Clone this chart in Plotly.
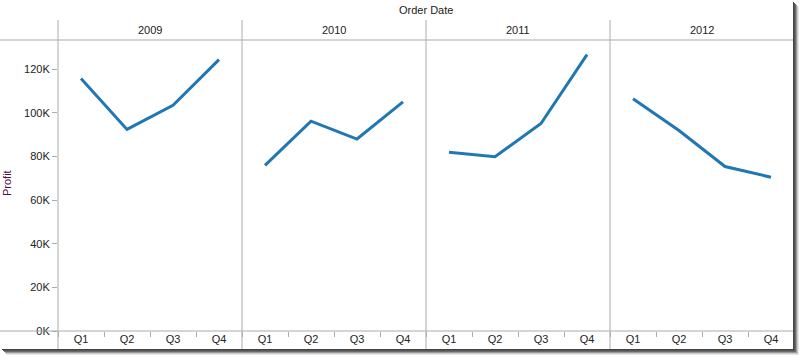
import plotly.graph_objects as go

W, H = 799, 355

years = ["2009", "2010", "2011", "2012"]
quarters = ["Q1", "Q2", "Q3", "Q4"]
profit_2009 = [115800, 92400, 103500, 124400]
profit_2010 = [75900, 96200, 88000, 105000]
profit_2011 = [81900, 79900, 95100, 126700]
profit_2012 = [106500, 91900, 75400, 70500]
series = [profit_2009, profit_2010, profit_2011, profit_2012]

y_tickvals = [0, 20000, 40000, 60000, 80000, 100000, 120000]
y_ticktext = ["0K", "20K", "40K", "60K", "80K", "100K", "120K"]

FONT = "Liberation Sans, Arial, sans-serif"
GRID = "#ababab"
LINE = "#1f77b4"

def px(x):
    return x / W

def py(y):
    return 1 - y / H

panel_x = [58, 242, 426, 610, 794]
plot_top, plot_bot = 40, 331

fig = go.Figure()
for i, (yr, vals) in enumerate(zip(years, series)):
    xa = "x" if i == 0 else f"x{i+1}"
    fig.add_trace(go.Scatter(x=quarters, y=vals, mode="lines", xaxis=xa, yaxis="y",
                             line=dict(color=LINE, width=3), showlegend=False,
                             hoverinfo="x+y"))

layout = dict(
    template="none",
    width=W, height=H, margin=dict(l=0, r=0, t=0, b=0, autoexpand=False),
    paper_bgcolor="white", plot_bgcolor="white",
    font=dict(family=FONT, size=11, color="#222"),
    yaxis=dict(domain=[py(plot_bot), py(plot_top)], range=[0, 133400], anchor="x",
               tickvals=y_tickvals, ticktext=y_ticktext, ticks="outside", ticklen=5,
               tickcolor=GRID, showgrid=False, zeroline=False, showline=False,
               automargin=False,
               tickfont=dict(size=11, color="#222", family=FONT)),
    shapes=[], annotations=[],
)
for i in range(4):
    key = "xaxis" if i == 0 else f"xaxis{i+1}"
    layout[key] = dict(domain=[px(panel_x[i]), px(panel_x[i+1])], anchor="y",
                       type="category", categoryorder="array", categoryarray=quarters,
                       range=[-0.5, 3.5], ticks="outside", tickson="boundaries",
                       ticklen=5, tickcolor=GRID, showgrid=False, zeroline=False,
                       showline=False, automargin=False,
                       tickfont=dict(size=11, color="#222", family=FONT))
    layout["annotations"].append(dict(x=px((panel_x[i] + panel_x[i+1]) / 2), y=py(30),
                                      xref="paper", yref="paper", text=years[i],
                                      xanchor="center", yanchor="middle",
                                      showarrow=False, font=dict(size=11, color="#222", family=FONT)))

layout["annotations"].append(dict(x=px(426), y=py(10), xref="paper", yref="paper",
                                  text="Order Date", showarrow=False,
                                  xanchor="center", yanchor="middle",
                                  font=dict(size=11, color="#222", family=FONT)))
layout["annotations"].append(dict(x=px(7), y=py(183), xref="paper", yref="paper",
                                  text="Profit", showarrow=False, textangle=-90,
                                  xanchor="center", yanchor="middle",
                                  font=dict(size=11, color="#4a1040", family=FONT)))

shapes = layout["shapes"]
# horizontal header line and axis line
for yy in (plot_top, plot_bot):
    shapes.append(dict(type="line", xref="paper", yref="paper", x0=0, x1=px(793),
                       y0=py(yy), y1=py(yy), line=dict(color=GRID, width=1)))
# vertical panel separators
for xx in panel_x[:4]:
    shapes.append(dict(type="line", xref="paper", yref="paper", x0=px(xx), x1=px(xx),
                       y0=py(20), y1=py(350), line=dict(color=GRID, width=1)))
# screenshot shadow (right and bottom)
shadow = [(0, "#444"), (1, "#555"), (2, "#6a6a6a"), (3, "#9a9a9a"), (4, "#c8c8c8"), (5, "#e8e8e8")]
for off, col in shadow:
    shapes.append(dict(type="rect", xref="paper", yref="paper",
                       x0=px(793 + off), x1=px(794 + off), y0=py(350 + off), y1=py(2 + off),
                       line=dict(width=0), fillcolor=col))
    shapes.append(dict(type="rect", xref="paper", yref="paper",
                       x0=px(2 + off), x1=px(794 + off), y0=py(350 + off), y1=py(349 + off),
                       line=dict(width=0), fillcolor=col))

fig.update_layout(**layout)
post = ("document.body.style.margin='0';document.body.style.overflow='hidden';")
fig.write_html("out.html", post_script=post, config={"displayModeBar": False})
